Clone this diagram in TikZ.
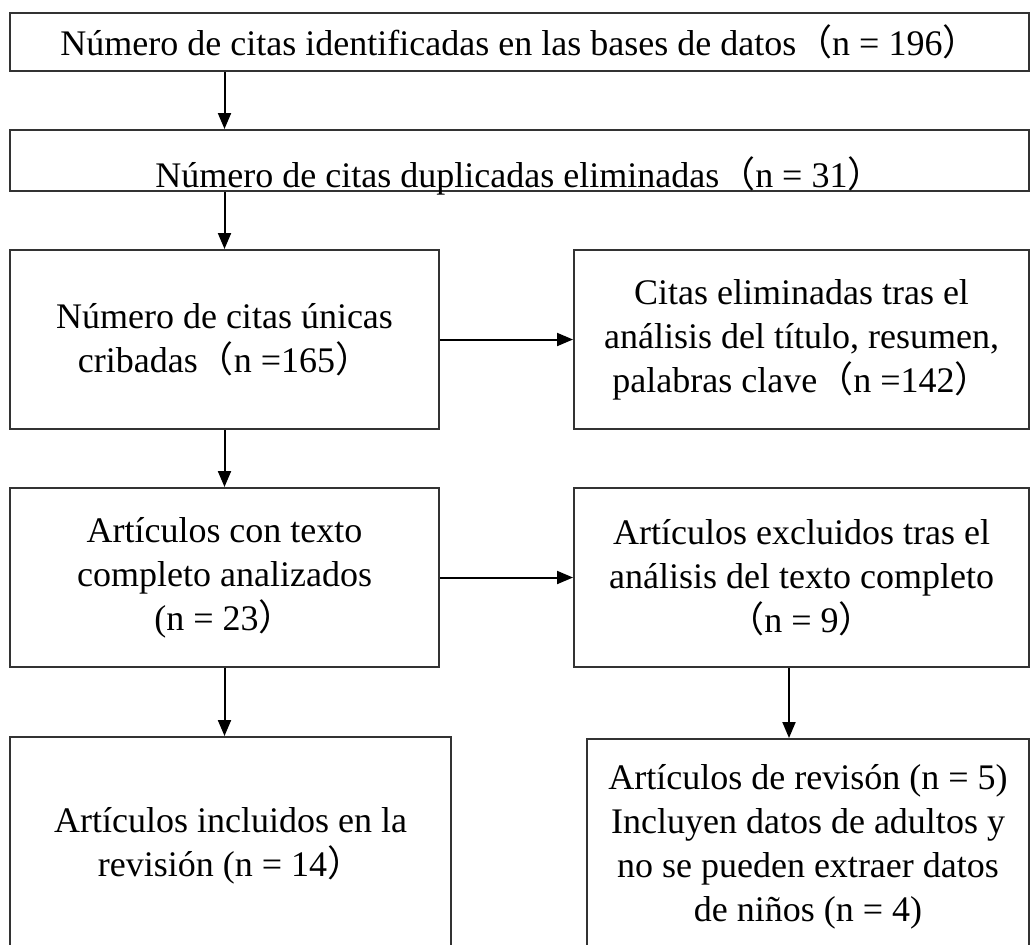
\documentclass[tikz,border=0pt]{standalone}
\usepackage{fontspec}
\setmainfont{Liberation Serif}
\newfontfamily\cjkfont{Noto Sans CJK SC}
\newcommand{\LPa}{{\cjkfont （}}
\newcommand{\RPa}{{\cjkfont ）}}
\usetikzlibrary{arrows.meta}
\begin{document}
\begin{tikzpicture}[x=0.5pt,y=-0.5pt,
  box/.style={draw=black!80, line width=1pt, align=center, inner sep=0pt,
    font=\fontsize{18pt}{22pt}\selectfont},
  arr/.style={draw=black, line width=1pt, -{Triangle[length=8pt,width=6.5pt]}}]
\useasboundingbox (0,0) rectangle (1031,944);
\node[box, minimum width=509.5pt, minimum height=29pt] (b1) at (519.5,42)
  {Número de citas identificadas en las bases de datos\LPa n = 196\RPa};
\node[box, minimum width=509.5pt, minimum height=30.5pt, text height=26.5pt, text depth=0pt] (b2) at (519.5,160.5)
  {Número de citas duplicadas eliminadas\LPa n = 31\RPa};
\node[box, minimum width=214.5pt, minimum height=89.5pt] (b3) at (224.5,339.5)
  {Número de citas únicas\\cribadas\LPa n =165\RPa};
\node[box, minimum width=227.5pt, minimum height=89.5pt] (b4) at (801.5,339.5)
  {Citas eliminadas tras el\\análisis del título, resumen,\\palabras clave\LPa n =142\RPa};
\node[box, minimum width=214.5pt, minimum height=89.5pt] (b5) at (224.5,577.5)
  {Artículos con texto\\completo analizados\\(n = 23\RPa};
\node[box, minimum width=227.5pt, minimum height=89.5pt] (b6) at (801.5,577.5)
  {Artículos excluidos tras el\\análisis del texto completo\\\LPa n = 9\RPa};
\node[box, minimum width=220.5pt, minimum height=109pt] (b7) at (230.5,846)
  {Artículos incluidos en la\\revisión (n = 14\RPa};
\node[box, minimum width=221pt, minimum height=108pt] (b8) at (808,847)
  {Artículos de revisón (n = 5)\\Incluyen datos de adultos y\\no se pueden extraer datos\\de niños (n = 4)};
\draw[arr] (b1.south -| b3.north) -- (b2.north -| b3.north);
\draw[arr] (b2.south -| b3.north) -- (b3.north);
\draw[arr] (b3.east) -- (b4.west);
\draw[arr] (b3.south) -- (b5.north);
\draw[arr] (b5.east) -- (b6.west);
\draw[arr] (b5.south) -- (b5.south |- b7.north);
\coordinate (r6) at ([xshift=-6.25pt]b6.south);
\draw[arr] (r6) -- (r6 |- b8.north);
\end{tikzpicture}
\end{document}
